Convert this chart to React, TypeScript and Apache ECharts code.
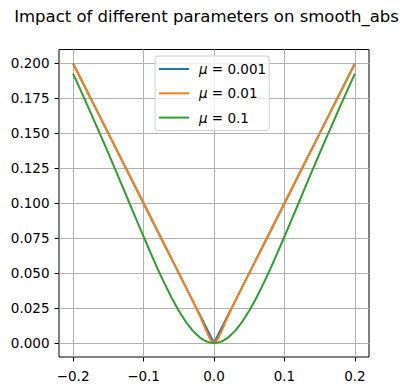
import React, { useEffect, useRef } from "react";
import * as echarts from "echarts";

const titleText = "Impact of different parameters on smooth_abs";
const seriesNames = ["μ = 0.001", "μ = 0.01", "μ = 0.1"];
const colors = ["#1f77b4", "#ff7f0e", "#2ca02c"];

const xs = [
  -0.2, -0.19, -0.18, -0.17, -0.16, -0.15, -0.14, -0.13, -0.12, -0.11, -0.1, -0.09, -0.08, -0.07, -0.06, -0.05,
  -0.04, -0.03, -0.02, -0.015, -0.01, -0.005, 0, 0.005, 0.01, 0.015, 0.02, 0.03, 0.04,
  0.05, 0.06, 0.07, 0.08, 0.09, 0.1, 0.11, 0.12, 0.13, 0.14, 0.15, 0.16, 0.17, 0.18, 0.19, 0.2,
];

const muSmall = [
  0.2, 0.19, 0.18, 0.17, 0.16, 0.15, 0.14, 0.13, 0.12, 0.11, 0.1, 0.09, 0.08, 0.07, 0.06, 0.05,
  0.04, 0.03, 0.02, 0.015, 0.01, 0.005, 0, 0.005, 0.01, 0.015, 0.02, 0.03, 0.04,
  0.05, 0.06, 0.07, 0.08, 0.09, 0.1, 0.11, 0.12, 0.13, 0.14, 0.15, 0.16, 0.17, 0.18, 0.19, 0.2,
];

const muMid = [
  0.2, 0.19, 0.18, 0.17, 0.16, 0.15, 0.14, 0.13, 0.12, 0.11, 0.1, 0.09, 0.08, 0.07, 0.06, 0.05,
  0.04, 0.0299, 0.0193, 0.0136, 0.0076, 0.0023, 0, 0.0023, 0.0076, 0.0136, 0.0193, 0.0299, 0.04,
  0.05, 0.06, 0.07, 0.08, 0.09, 0.1, 0.11, 0.12, 0.13, 0.14, 0.15, 0.16, 0.17, 0.18, 0.19, 0.2,
];

const muLarge = [
  0.1928, 0.1817, 0.1704, 0.159, 0.1475, 0.1358, 0.124, 0.112, 0.1, 0.0881, 0.0762, 0.0645, 0.0531, 0.0423, 0.0322, 0.0231,
  0.0152, 0.0087, 0.0039, 0.0022, 0.001, 0.0003, 0, 0.0003, 0.001, 0.0022, 0.0039, 0.0087, 0.0152,
  0.0231, 0.0322, 0.0423, 0.0531, 0.0645, 0.0762, 0.0881, 0.1, 0.112, 0.124, 0.1358, 0.1475, 0.159, 0.1704, 0.1817, 0.1928,
];

const xTicks = [-0.2, -0.1, 0, 0.1, 0.2];
const yTicks = [0, 0.025, 0.05, 0.075, 0.1, 0.125, 0.15, 0.175, 0.2];

const FONT = "DejaVu Sans";

export default function App() {
  const ref = useRef<HTMLDivElement>(null);
  useEffect(() => {
    document.body.style.margin = "0";
    const chart = echarts.init(ref.current!, null, { renderer: "svg" });
    const allY = [muSmall, muMid, muLarge];
    chart.setOption({
      animation: false,
      backgroundColor: "#ffffff",
      textStyle: { fontFamily: FONT },
      title: {
        text: titleText,
        left: "center",
        top: 8,
        padding: 0,
        textStyle: { fontFamily: FONT, fontSize: 16.5, fontWeight: "normal", color: "#000" },
      },
      grid: {
        left: 59,
        right: 44,
        top: 49.5,
        bottom: 34,
        show: true,
        borderColor: "#000",
        borderWidth: 1,
        backgroundColor: "transparent",
      },
      legend: {
        orient: "vertical",
        left: 155,
        top: 56,
        padding: [6, 3, 6, 4],
        itemWidth: 30,
        itemHeight: 2,
        itemGap: 10.3,
        icon: "rect",
        backgroundColor: "rgba(255,255,255,0.8)",
        borderColor: "#d0d0d0",
        borderWidth: 1,
        borderRadius: 3,
        data: seriesNames,
        formatter: (name: string) => "{i|μ}" + name.slice(1),
        textStyle: {
          fontFamily: FONT,
          fontSize: 13.5,
          color: "#000",
          lineHeight: 14,
          padding: [0, 0, 0, 5],
          rich: {
            i: { fontFamily: FONT, fontStyle: "italic", fontSize: 13.5, color: "#000", lineHeight: 14 },
          },
        },
      },
      xAxis: {
        type: "value",
        min: -0.22,
        max: 0.22,
        axisLine: { show: false, onZero: false },
        axisTick: {
          show: true,
          inside: false,
          length: 4.5,
          customValues: xTicks,
          lineStyle: { color: "#000", width: 1 },
        },
        axisLabel: {
          customValues: xTicks,
          margin: 11.5,
          fontFamily: FONT,
          fontSize: 13.5,
          color: "#000",
          formatter: (v: number) => v.toFixed(1).replace("-", "\u2212"),
        },
        splitLine: { show: true, lineStyle: { color: "#b0b0b0", width: 1 } },
      },
      yAxis: {
        type: "value",
        min: -0.01,
        max: 0.21,
        axisLine: { show: false, onZero: false },
        axisTick: {
          show: true,
          inside: false,
          length: 4.5,
          customValues: yTicks,
          lineStyle: { color: "#000", width: 1 },
        },
        axisLabel: {
          customValues: yTicks,
          margin: 9.5,
          fontFamily: FONT,
          fontSize: 13.5,
          color: "#000",
          formatter: (v: number) => v.toFixed(3),
        },
        splitLine: { show: true, lineStyle: { color: "#b0b0b0", width: 1 } },
      },
      series: seriesNames.map((name, k) => ({
        name,
        type: "line",
        data: xs.map((x, i) => [x, allY[k][i]]),
        symbol: "none",
        smooth: false,
        clip: true,
        color: colors[k],
        lineStyle: { color: colors[k], width: 2 },
        z: 2 + k,
      })),
    });
    return () => chart.dispose();
  }, []);
  return <div ref={ref} style={{ width: 413, height: 391 }} />;
}
